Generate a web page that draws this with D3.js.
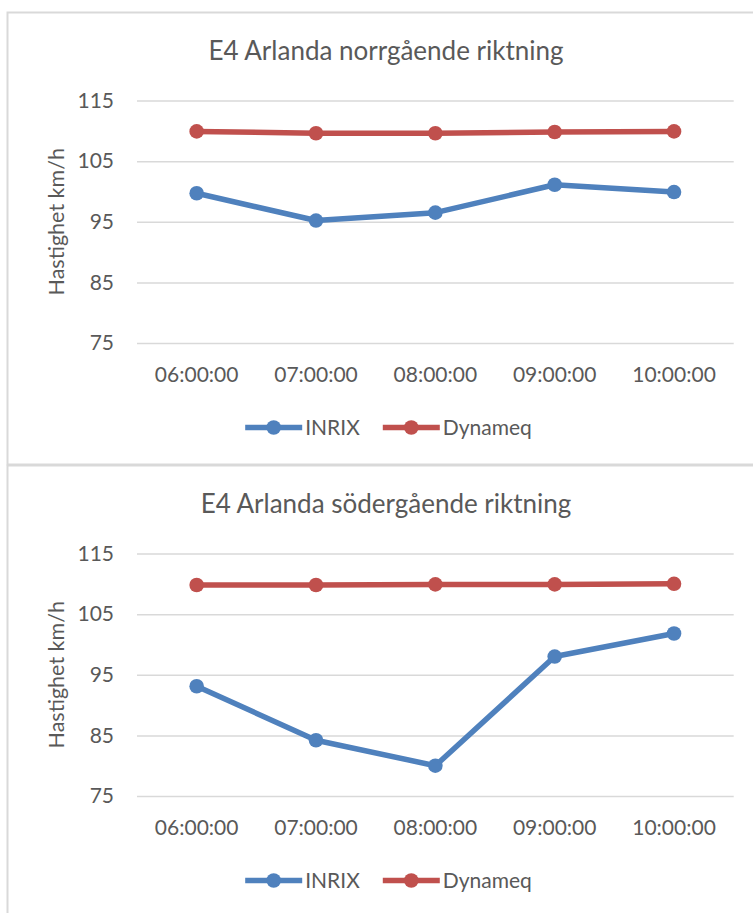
<!DOCTYPE html>
<html>
<head>
<meta charset="utf-8">
<script src="https://cdn.jsdelivr.net/npm/d3@7"></script>
<style>
body { margin: 0; background: #fff; }
text { font-family: Lato, "Open Sans", sans-serif; fill: #595959; }
</style>
</head>
<body>
<script>
// tid på dygnet
var hours = ['06:00:00', '07:00:00', '08:00:00', '09:00:00', '10:00:00'];
var yTicks = [75, 85, 95, 105, 115];
var seriesNames = ['INRIX', 'Dynameq'];
var seriesColors = ['#4f81bd', '#c0504d'];

var titleNorth = 'E4 Arlanda norrgående riktning';
var inrixNorth = [99.7, 95.2, 96.5, 101.1, 99.9];
var dynameqNorth = [109.9, 109.6, 109.6, 109.8, 109.9];

var titleSouth = 'E4 Arlanda södergående riktning';
var inrixSouth = [93.1, 84.2, 80.0, 98.0, 101.8];
var dynameqSouth = [109.8, 109.8, 109.9, 109.9, 110.0];

var yLabel = 'Hastighet km/h';

var W = 753, H = 913;
var svg = d3.select('body').append('svg')
    .attr('width', W)
    .attr('height', H);

function drawChart(top, title, inrix, dynameq) {
    var g = svg.append('g')
            .attr('transform', 'translate(0,' + top + ')'),
        left = 137,
        right = 733.7,
        cx = 386,
        x = d3.scaleBand().domain(hours).range([left, right]),
        y = d3.scaleLinear().domain([75, 115]).range([330.5, 88]),
        series = [inrix, dynameq];

    g.append('rect')
        .attr('x', 7.5)
        .attr('y', 0)
        .attr('width', 800)
        .attr('height', 452)
        .attr('fill', '#fff')
        .attr('stroke', '#d9d9d9')
        .attr('stroke-width', 2);

    g.append('text')
        .attr('x', cx)
        .attr('y', 47.5)
        .attr('text-anchor', 'middle')
        .style('font-size', '26px')
        .text(title);

    var yAxis = d3.axisLeft(y)
        .tickValues(yTicks)
        .tickSize(-(right - left))
        .tickPadding(23);

    var yy = g.append('g')
        .attr('transform', 'translate(' + left + ',0)')
        .call(yAxis);
    yy.select('.domain').remove();
    yy.selectAll('line')
        .attr('stroke', '#d9d9d9')
        .attr('stroke-width', 1.5);
    yy.selectAll('text')
        .attr('fill', '#595959')
        .style('font-size', '21px')
        .style('font-family', 'Lato, "Open Sans", sans-serif');

    var xAxis = d3.axisBottom(x)
        .tickSize(0)
        .tickPadding(0);
    var xx = g.append('g')
        .attr('transform', 'translate(0,' + y(75) + ')')
        .call(xAxis);
    xx.select('.domain').remove();
    xx.selectAll('text')
        .attr('dy', null)
        .attr('y', 38.5)
        .attr('fill', '#595959')
        .style('font-size', '21px')
        .style('font-family', 'Lato, "Open Sans", sans-serif');

    g.append('text')
        .attr('transform', 'translate(64,' + ((y(75) + y(115)) / 2) + ') rotate(-90)')
        .attr('text-anchor', 'middle')
        .style('font-size', '21.5px')
        .text(yLabel);

    var line = d3.line()
        .x(function(d, i) { return x(hours[i]) + x.bandwidth() / 2; })
        .y(function(d) { return y(d); });

    series.forEach(function(vals, s) {
        g.append('path')
            .datum(vals)
            .attr('d', line)
            .attr('fill', 'none')
            .attr('stroke', seriesColors[s])
            .attr('stroke-width', 5.5)
            .attr('stroke-linejoin', 'round');
        g.append('g').selectAll('circle')
            .data(vals)
            .enter()
            .append('circle')
            .attr('cx', function(d, i) { return x(hours[i]) + x.bandwidth() / 2; })
            .attr('cy', function(d) { return y(d); })
            .attr('r', 7.3)
            .attr('fill', seriesColors[s]);
    });

    // legend, centred under the plot
    var legend = g.append('g'),
        ly = 415,
        symW = 57,
        offset = 0;
    seriesNames.forEach(function(name, s) {
        var it = legend.append('g');
        it.append('line')
            .attr('x1', 0).attr('x2', symW)
            .attr('y1', ly).attr('y2', ly)
            .attr('stroke', seriesColors[s])
            .attr('stroke-width', 5.5);
        it.append('circle')
            .attr('cx', symW / 2).attr('cy', ly)
            .attr('r', 7.3)
            .attr('fill', seriesColors[s]);
        var t = it.append('text')
            .attr('x', symW + 3)
            .attr('y', ly)
            .attr('dy', '0.36em')
            .style('font-size', '21px')
            .text(name);
        var w = symW + 3 + t.node().getComputedTextLength();
        it.attr('transform', 'translate(' + offset + ',0)');
        offset += w + 23;
    });
    var total = offset - 23;
    legend.attr('transform', 'translate(' + (cx + 2.5 - total / 2) + ',0)');
}

drawChart(12.5, titleNorth, inrixNorth, dynameqNorth);
drawChart(465.5, titleSouth, inrixSouth, dynameqSouth);
</script>
</body>
</html>
